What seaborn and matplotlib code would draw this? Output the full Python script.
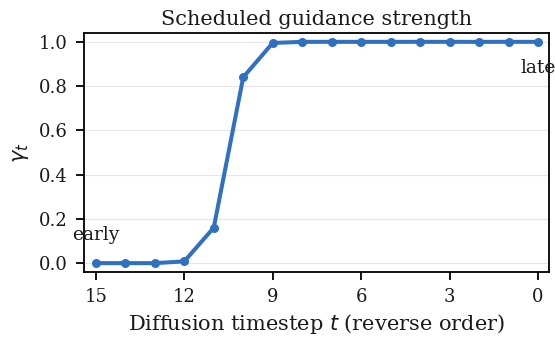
import matplotlib
matplotlib.use("Agg")
import matplotlib.pyplot as plt
import seaborn as sns
import pandas as pd

timesteps = [15, 14, 13, 12, 11, 10, 9, 8, 7, 6, 5, 4, 3, 2, 1, 0]
gamma = [0.0, 0.0, 0.0, 0.008, 0.16, 0.84, 0.995, 1.0, 1.0, 1.0, 1.0, 1.0, 1.0, 1.0, 1.0, 1.0]
xticks = [15, 12, 9, 6, 3, 0]
yticks = [0.0, 0.2, 0.4, 0.6, 0.8, 1.0]

sns.set_theme(style="ticks")
plt.rcParams['font.family'] = ['DejaVu Serif']
plt.rcParams['mathtext.fontset'] = 'dejavusans'

df = pd.DataFrame({"t": timesteps, "gamma": gamma})

fig = plt.figure(figsize=(5.55, 3.37), dpi=100)
ax = fig.add_axes([84/555, 1-272/337, (549-84)/555, (272-33)/337])
sns.lineplot(data=df, x="t", y="gamma", ax=ax, color="#3070C0", linewidth=2.9,
             marker="o", markersize=6.5, markeredgewidth=0, zorder=3)
ax.set_xlim(15.4, -0.37)
ax.set_ylim(-0.04, 1.04)
ax.set_xticks(xticks)
ax.set_xticklabels([str(v) for v in xticks])
ax.set_yticks(yticks)
ax.set_yticklabels([f"{v:.1f}" for v in yticks])
ax.yaxis.grid(True, color="#e6e6e6", linewidth=0.8)
ax.set_axisbelow(True)
for s in ax.spines.values():
    s.set_visible(True)
    s.set_color("black")
    s.set_linewidth(1.3)
ax.tick_params(axis="both", labelsize=13, length=5.5, width=1.3, pad=6,
               color="black", labelcolor="#1a1a1a")
ax.set_xlabel("Diffusion timestep $t$ (reverse order)", fontsize=15, color="#1a1a1a", labelpad=4)
ax.set_ylabel(r"$\gamma_t$", fontsize=15, color="#1a1a1a", labelpad=6)
ax.set_title("Scheduled guidance strength", fontsize=15, color="#1a1a1a", pad=6)
ax.text(15, 0.127, "early", ha="center", va="center", fontsize=13.5, color="#1a1a1a")
ax.text(0, 0.88, "late", ha="center", va="center", fontsize=13.5, color="#1a1a1a")

fig.savefig("out.png", dpi=100)
